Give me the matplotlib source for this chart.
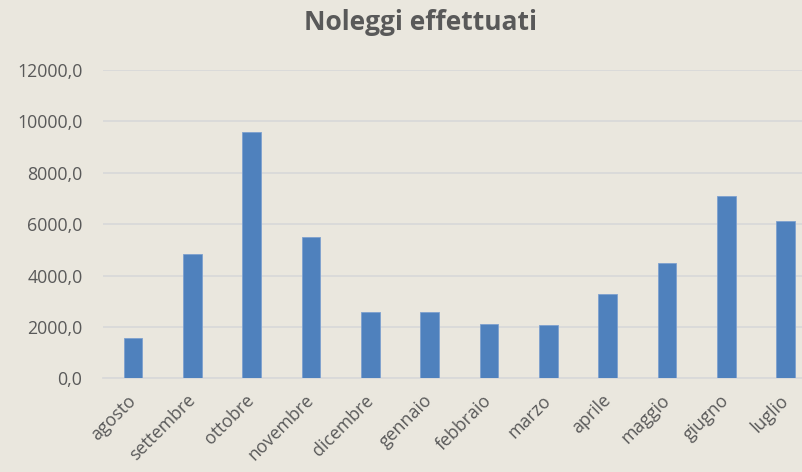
import matplotlib

matplotlib.use("Agg")
import matplotlib.pyplot as plt
from matplotlib.ticker import FuncFormatter

plt.rcParams["font.family"] = ["Open Sans", "DejaVu Sans"]

mesi = ["agosto", "settembre", "ottobre", "novembre", "dicembre", "gennaio",
        "febbraio", "marzo", "aprile", "maggio", "giugno", "luglio"]
noleggi = [1550, 4850, 9580, 5500, 2590, 2590, 2100, 2070, 3270, 4490, 7110, 6120]
y_ticks = [0, 2000, 4000, 6000, 8000, 10000, 12000]

BG = "#EAE7DE"
BAR = "#4F81BD"
GRID = "#D9D9D9"
TXT = "#595959"

fig = plt.figure(figsize=(8.02, 4.72), dpi=100, facecolor=BG)
# l'area del grafico continua oltre il bordo destro
ax = fig.add_axes([0.1288, 0.1985, 0.888, 0.6532], facecolor=BG)

x = range(len(mesi))
ax.bar(x, noleggi, width=0.315, color=BAR, edgecolor="#7EA1CF", linewidth=0.6, zorder=3)

ax.set_xlim(-0.5, len(mesi) - 0.5)
ax.set_ylim(0, 12000)
ax.set_yticks(y_ticks)
ax.yaxis.set_major_formatter(FuncFormatter(lambda v, _: f"{v:.1f}".replace(".", ",")))
ax.grid(axis="y", color=GRID, linewidth=1.3, zorder=0)
ax.set_axisbelow(True)

ax.set_xticks(list(x))
ax.set_xticklabels(mesi, rotation=45, ha="right", va="center", rotation_mode="anchor")
ax.tick_params(axis="both", length=0, colors=TXT, labelsize=12.8)
ax.tick_params(axis="y", pad=15)
ax.tick_params(axis="x", pad=14)

for s in ["top", "right", "left"]:
    ax.spines[s].set_visible(False)
ax.spines["bottom"].set_color(GRID)
ax.spines["bottom"].set_linewidth(1.3)

fig.text(420 / 802, 1 - 23 / 472, "Noleggi effettuati", ha="center", va="center",
         fontsize=19, fontweight="bold", color=TXT)

fig.savefig("out.png", dpi=100, facecolor=BG)
plt.close(fig)
